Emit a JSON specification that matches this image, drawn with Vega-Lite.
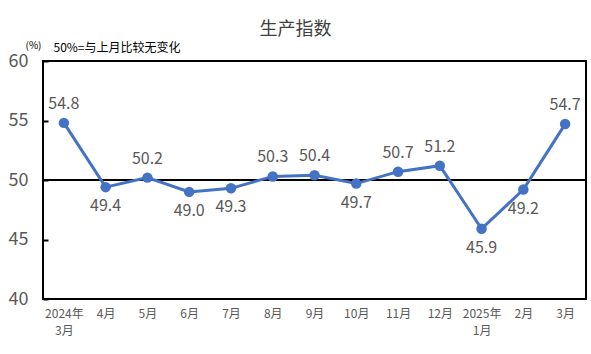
{
  "$schema": "https://vega.github.io/schema/vega-lite/v6.json",
  "width": 543,
  "height": 238,
  "autosize": {"type": "none"},
  "padding": {"left": 43, "top": 61, "right": 5, "bottom": 55},
  "background": "white",
  "config": {
    "font": "Noto Sans CJK SC",
    "view": {"stroke": "black", "strokeWidth": 2}
  },
  "title": {
    "text": "生产指数",
    "fontSize": 18,
    "font": "Noto Sans CJK SC",
    "fontWeight": "normal",
    "color": "#404040",
    "anchor": "middle",
    "dx": -19,
    "offset": 1
  },
  "data": {
    "values": [
      {"month": "2024年\n3月", "value": 54.8, "pos": "above"},
      {"month": "4月", "value": 49.4, "pos": "below"},
      {"month": "5月", "value": 50.2, "pos": "above"},
      {"month": "6月", "value": 49.0, "pos": "below"},
      {"month": "7月", "value": 49.3, "pos": "below"},
      {"month": "8月", "value": 50.3, "pos": "above"},
      {"month": "9月", "value": 50.4, "pos": "above"},
      {"month": "10月", "value": 49.7, "pos": "below"},
      {"month": "11月", "value": 50.7, "pos": "above"},
      {"month": "12月", "value": 51.2, "pos": "above"},
      {"month": "2025年\n1月", "value": 45.9, "pos": "below"},
      {"month": "2月", "value": 49.2, "pos": "below"},
      {"month": "3月", "value": 54.7, "pos": "above"}
    ]
  },
  "encoding": {
    "x": {
      "field": "month",
      "type": "nominal",
      "sort": null,
      "scale": {"paddingInner": 0, "paddingOuter": 0},
      "axis": {
        "title": "50%=与上月比较无变化",
        "titleFontSize": 12,
        "titleFontWeight": "normal",
        "titleColor": "#000000",
        "titleAlign": "left",
        "titleBaseline": "middle",
        "titleX": 10,
        "titleY": -252,
        "labelAngle": 0,
        "labelFontSize": 12,
        "labelColor": "#595959",
        "labelPadding": 9,
        "labelLineHeight": 17,
        "labelExpr": "split(datum.label, '\\n')",
        "ticks": false,
        "domain": false,
        "grid": false
      }
    },
    "y": {
      "field": "value",
      "type": "quantitative",
      "scale": {"domain": [40, 60], "nice": false, "zero": false},
      "axis": {
        "title": "(%)",
        "titleFontSize": 10,
        "titleFontWeight": "normal",
        "titleColor": "#000000",
        "titleAngle": 0,
        "titleAlign": "left",
        "titleBaseline": "middle",
        "titleX": -18,
        "titleY": -16,
        "values": [40, 45, 50, 55, 60],
        "labelFontSize": 18,
        "labelColor": "#595959",
        "labelPadding": 20,
        "tickSize": -5,
        "tickColor": "black",
        "tickWidth": 2,
        "domain": false,
        "grid": false
      }
    }
  },
  "layer": [
    {
      "data": {"values": [{"ref": 50}]},
      "mark": {"type": "rule", "color": "black", "strokeWidth": 2},
      "encoding": {"y": {"field": "ref", "type": "quantitative"}, "x": null}
    },
    {
      "mark": {"type": "line", "color": "#4472C4", "strokeWidth": 3}
    },
    {
      "mark": {"type": "point", "filled": true, "color": "#4472C4", "size": 110, "opacity": 1}
    },
    {
      "transform": [{"filter": "datum.pos == 'above'"}],
      "mark": {"type": "text", "dy": -19, "fontSize": 16, "color": "#595959", "baseline": "middle"},
      "encoding": {"text": {"field": "value", "type": "quantitative", "format": ".1f"}}
    },
    {
      "transform": [{"filter": "datum.pos == 'below'"}],
      "mark": {"type": "text", "dy": 19, "fontSize": 16, "color": "#595959", "baseline": "middle"},
      "encoding": {"text": {"field": "value", "type": "quantitative", "format": ".1f"}}
    }
  ]
}
